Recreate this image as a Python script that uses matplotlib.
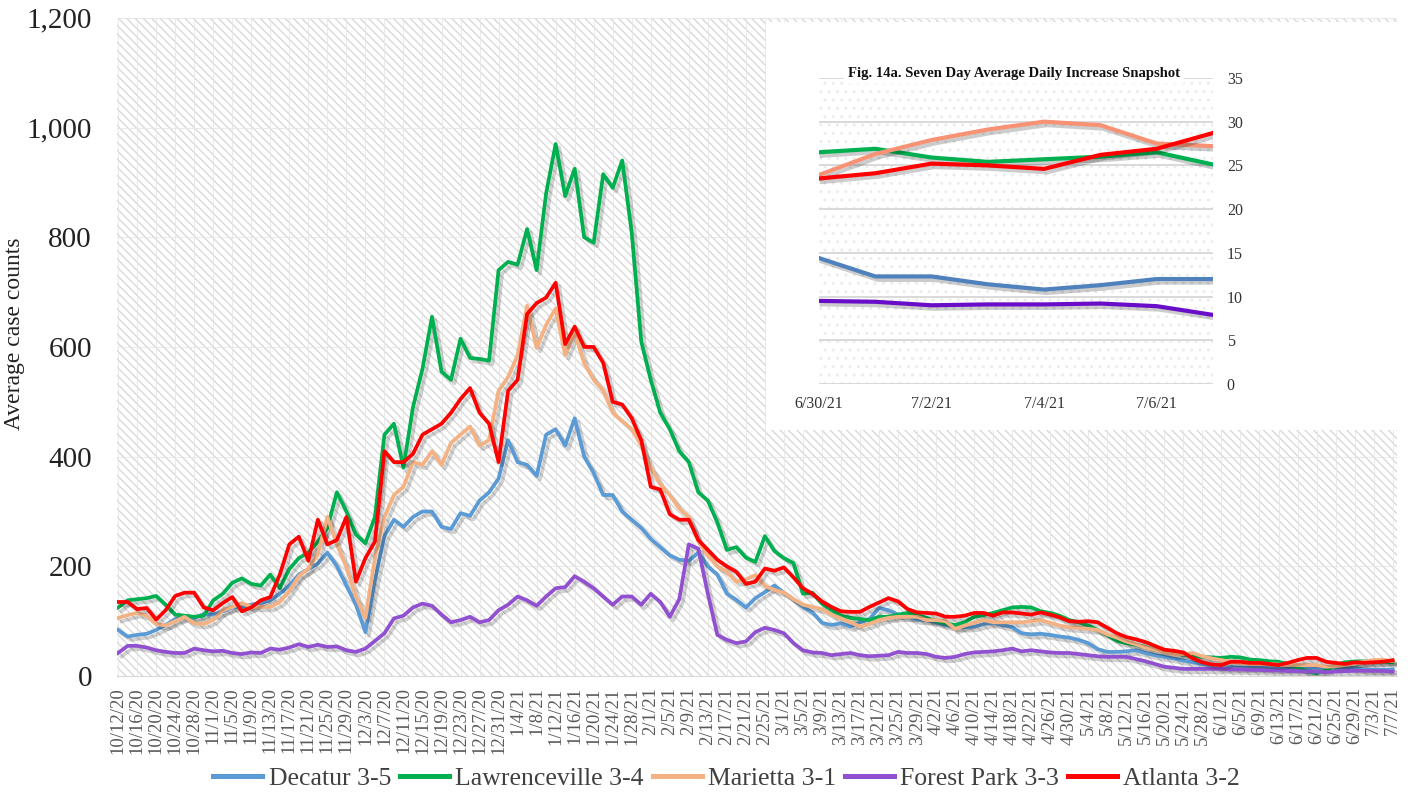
import matplotlib
matplotlib.use('Agg')
import matplotlib.pyplot as plt
import matplotlib.patheffects as pe
from matplotlib.patches import Rectangle
import pandas as pd

plt.rcParams['font.family'] = ['Liberation Serif', 'DejaVu Serif']
plt.rcParams['hatch.linewidth'] = 1.0

# 7-day average case counts, one value every second day, 10/12/20 .. 7/7/21
dates = pd.date_range('2020-10-12', '2021-07-07', freq='2D')

decatur = [84, 72, 75, 77, 84, 93, 104, 108, 106, 113,
           112, 118, 125, 126, 130, 133, 138, 150, 165, 185,
           195, 205, 225, 200, 165, 130, 80, 175, 255, 285,
           272, 290, 300, 300, 272, 268, 297, 292, 320, 335,
           360, 430, 390, 385, 365, 440, 450, 420, 470, 400,
           370, 330, 330, 300, 285, 270, 250, 235, 220, 212,
           210, 225, 200, 185, 150, 139, 125, 142, 153, 165,
           152, 140, 126, 116, 97, 93, 96, 90, 98, 104,
           124, 120, 112, 108, 103, 102, 98, 93, 90, 89,
           90, 95, 97, 93, 89, 78, 76, 77, 75, 72,
           70, 66, 60, 49, 44, 44, 45, 47, 42, 38,
           35, 32, 28, 25, 22, 19, 16, 16, 15, 15,
           15, 14, 13, 13, 13, 14, 15, 15, 15, 15,
           14.4, 12.3, 11.4, 11.3, 12.0]

lawrenceville = [125, 138, 140, 142, 146, 130, 112, 110, 108, 110,
                 138, 150, 170, 178, 168, 165, 185, 160, 195, 215,
                 225, 245, 270, 335, 300, 258, 242, 290, 440, 460,
                 380, 490, 560, 655, 555, 540, 615, 580, 578, 575,
                 740, 755, 750, 815, 740, 880, 970, 875, 925, 800,
                 790, 915, 890, 940, 808, 610, 540, 480, 450, 410,
                 390, 335, 320, 280, 230, 235, 216, 208, 255, 228,
                 215, 206, 150, 152, 132, 120, 110, 106, 104, 102,
                 108, 108, 112, 115, 111, 106, 100, 96, 93, 98,
                 108, 111, 115, 120, 125, 126, 125, 118, 115, 110,
                 102, 98, 92, 84, 75, 64, 60, 57, 53, 48,
                 45, 42, 39, 37, 35, 34, 33, 35, 34, 30,
                 29, 27, 26, 22, 16, 8, 5, 10, 20, 25,
                 26.5, 26.9, 25.4, 26.0, 25.1]

marietta = [106, 111, 115, 110, 95, 92, 100, 108, 96, 95,
            102, 120, 126, 133, 126, 126, 126, 135, 155, 182,
            196, 222, 290, 240, 198, 145, 106, 215, 290, 330,
            345, 390, 385, 410, 385, 425, 440, 455, 420, 430,
            520, 545, 585, 675, 598, 640, 670, 585, 626, 570,
            540, 520, 480, 465, 450, 420, 380, 350, 330, 305,
            290, 245, 220, 200, 190, 172, 176, 184, 164, 157,
            152, 140, 130, 126, 122, 112, 105, 98, 90, 95,
            102, 106, 108, 108, 108, 102, 102, 100, 86, 92,
            97, 102, 98, 98, 98, 98, 100, 102, 97, 92,
            89, 88, 86, 84, 76, 70, 63, 58, 52, 48,
            44, 39, 40, 42, 36, 32, 29, 26, 24, 22,
            22, 22, 21, 20, 20, 20, 20, 17, 18, 20,
            23, 26.3, 29.1, 29.6, 27.2]

forest_park = [42, 55, 55, 52, 47, 44, 42, 42, 50, 47,
               45, 46, 42, 40, 43, 42, 50, 48, 52, 58,
               53, 57, 53, 54, 47, 44, 50, 64, 78, 105,
               110, 125, 132, 128, 112, 98, 102, 108, 98, 102,
               120, 130, 145, 138, 128, 145, 160, 162, 182, 172,
               160, 145, 130, 145, 145, 130, 150, 135, 108, 140,
               240, 232, 150, 75, 66, 60, 63, 80, 88, 84,
               78, 60, 47, 43, 42, 38, 40, 42, 38, 36,
               37, 38, 44, 42, 42, 40, 35, 33, 35, 40,
               43, 44, 45, 47, 50, 45, 47, 45, 43, 42,
               42, 40, 38, 36, 35, 35, 35, 31, 27, 22,
               17, 15, 13, 13, 13, 13, 13, 12, 12, 11,
               11, 10, 10, 9, 9, 8, 8, 7, 8, 9,
               9.5, 9.4, 9.1, 9.2, 7.9]

atlanta = [135, 135, 122, 124, 103, 120, 146, 152, 152, 125,
           120, 133, 144, 118, 125, 138, 144, 185, 240, 254,
           210, 285, 240, 248, 290, 172, 215, 245, 410, 390,
           390, 405, 440, 450, 460, 480, 505, 525, 480, 460,
           390, 520, 540, 660, 680, 690, 717, 605, 637, 600,
           600, 571, 500, 495, 470, 430, 345, 340, 295, 285,
           285, 248, 230, 212, 200, 190, 168, 172, 196, 192,
           198, 180, 160, 150, 136, 126, 118, 117, 117, 126,
           134, 142, 136, 122, 116, 115, 114, 108, 108, 110,
           115, 115, 110, 116, 116, 114, 112, 116, 112, 107,
           100, 99, 100, 98, 88, 78, 71, 67, 62, 55,
           48, 46, 43, 32, 25, 21, 20, 26, 26, 24,
           24, 22, 20, 24, 29, 33, 33, 26, 24, 22,
           25, 24.1, 25.0, 26.2, 28.7]

# inset snapshot, 6/30/21 .. 7/7/21
snap_days = ['6/30/21', '7/1/21', '7/2/21', '7/3/21', '7/4/21', '7/5/21', '7/6/21', '7/7/21']
snap_decatur = [14.4, 12.3, 12.3, 11.4, 10.8, 11.3, 12.0, 12.0]
snap_lawrenceville = [26.5, 26.9, 25.9, 25.4, 25.7, 26.0, 26.5, 25.1]
snap_marietta = [23.9, 26.3, 27.9, 29.1, 30.0, 29.6, 27.5, 27.2]
snap_forest_park = [9.5, 9.4, 9.0, 9.1, 9.1, 9.2, 8.9, 7.9]
snap_atlanta = [23.5, 24.1, 25.2, 25.0, 24.6, 26.2, 26.9, 28.7]

names = ['Decatur 3-5', 'Lawrenceville 3-4', 'Marietta 3-1', 'Forest Park 3-3', 'Atlanta 3-2']
series = [decatur, lawrenceville, marietta, forest_park, atlanta]
colors = ['#5B9BD5', '#00B050', '#F4B183', '#9150D0', '#FF0000']
snap_series = [snap_decatur, snap_lawrenceville, snap_marietta, snap_forest_park, snap_atlanta]
snap_colors = ['#4F81BD', '#00B050', '#F79274', '#6A0DC8', '#FF0000']

shadow = [pe.SimpleLineShadow(offset=(2.5, -2.5), shadow_color='black', alpha=0.18), pe.Normal()]

fig = plt.figure(figsize=(14.14, 7.93), dpi=100)
ax = fig.add_axes([0.0827, 0.1475, 0.905, 0.830])
ax.set_facecolor('white')
ax.add_patch(Rectangle((0, 0), 1, 1, transform=ax.transAxes, facecolor='white',
                       edgecolor='#d9d9d9', hatch='\\\\\\\\', lw=0, zorder=0))

for name, vals, c in zip(names, series, colors):
    ax.plot(dates, vals, color=c, lw=2.7, label=name, zorder=3,
            solid_joinstyle='round', path_effects=shadow)

ticks = dates[::2]
ax.set_xticks(ticks)
ax.set_xticklabels([f'{d.month}/{d.day}/{d.strftime("%y")}' for d in ticks],
                   rotation=90, fontsize=13.5, color='#595959')
ax.set_xlim(dates[0] - pd.Timedelta(hours=6), dates[-1] + pd.Timedelta(hours=20))
ax.set_ylim(0, 1200)
ax.set_yticks(range(0, 1201, 200))
ax.set_yticklabels([f'{v:,}' for v in range(0, 1201, 200)], fontsize=21, color='#222222')
ax.tick_params(axis='x', length=0, pad=8)
ax.tick_params(axis='y', length=0, pad=18)
ax.grid(True, color='#e6e6e6', lw=0.6, zorder=1)
ax.set_axisbelow(True)
for s in ['top', 'right', 'left']:
    ax.spines[s].set_visible(False)
ax.spines['bottom'].set_color('#d9d9d9')
ax.set_ylabel('Average case counts', fontsize=17, color='#222222')
ax.yaxis.set_label_coords(-0.072, 0.52)

fig.legend(loc='lower center', bbox_to_anchor=(0.514, -0.026), ncol=5, frameon=False,
           fontsize=18.5, handlelength=1.9, columnspacing=0.35, handletextpad=0.25,
           labelcolor='#404040')
for h in fig.legends[0].get_lines():
    h.set_linewidth(3.6)
    h.set_path_effects([])

# inset panel
bg = fig.add_axes([0.5417, 0.4578, 0.4462, 0.5145])
bg.set_facecolor('white')
bg.set_xticks([])
bg.set_yticks([])
for s in bg.spines.values():
    s.set_visible(False)
bg.set_zorder(5)

ins = fig.add_axes([0.5792, 0.5158, 0.2786, 0.3859])
ins.set_zorder(6)
ins.set_facecolor('none')
ins.add_patch(Rectangle((0, 0), 1, 1, transform=ins.transAxes, facecolor='none',
                        edgecolor='#ececec', hatch='..', lw=0, zorder=0))
xs = range(len(snap_days))
for vals, c in zip(snap_series, snap_colors):
    ins.plot(xs, vals, color=c, lw=3.0, zorder=3, solid_joinstyle='round',
             path_effects=[pe.SimpleLineShadow(offset=(2, -2.5), shadow_color='black', alpha=0.2),
                           pe.Normal()])
ins.set_xlim(0, 7)
ins.set_ylim(0, 35)
ins.set_yticks(range(0, 36, 5))
ins.yaxis.tick_right()
ins.set_xticks([0, 2, 4, 6])
ins.set_xticklabels([snap_days[i] for i in [0, 2, 4, 6]], fontsize=11.5, color='#333333')
ins.tick_params(axis='y', length=0, pad=10, labelsize=11.5, labelcolor='#333333')
ins.tick_params(axis='x', length=0, pad=9)
ins.grid(axis='y', color='#d9d9d9', lw=1.4, zorder=1)
for s in ins.spines.values():
    s.set_visible(False)
ins.text(0.495, 1.016, 'Fig. 14a. Seven Day Average Daily Increase Snapshot',
         transform=ins.transAxes, ha='center', va='center', fontsize=10.5,
         fontweight='bold', color='#111111',
         bbox=dict(facecolor='white', edgecolor='none', pad=3), zorder=5)

fig.savefig('out.png', dpi=100)
